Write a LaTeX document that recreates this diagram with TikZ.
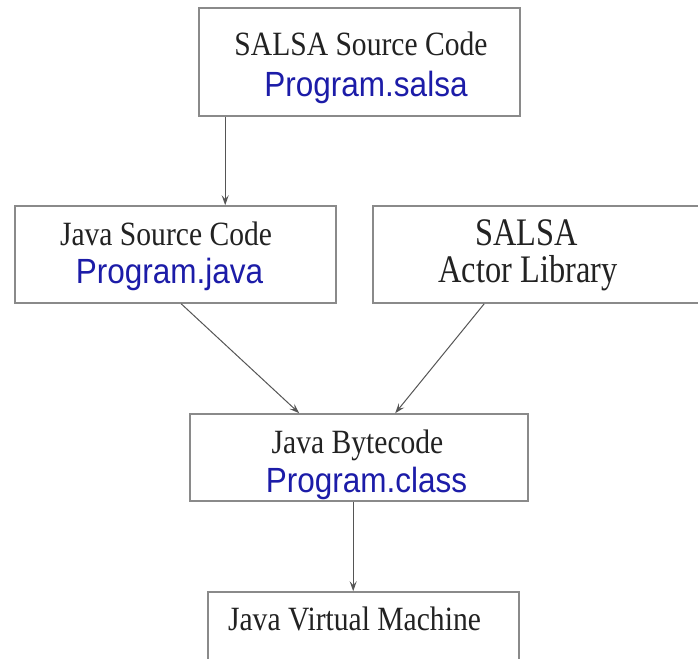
\documentclass[tikz,border=0pt]{standalone}
\usepackage{fontspec}
\setmainfont{Liberation Serif}
\newfontfamily\bluefont{Liberation Sans}
\usetikzlibrary{arrows.meta}
\definecolor{boxgray}{HTML}{8A8A8A}
\definecolor{arrgray}{HTML}{555555}
\definecolor{progblue}{HTML}{1C1CA8}
\definecolor{textblack}{HTML}{222222}
\newcommand{\blk}[1]{\scalebox{0.87}[1]{\fontsize{34}{34}\selectfont #1}}
\newcommand{\blkbig}[1]{\scalebox{0.83}[1]{\fontsize{39}{39}\selectfont #1}}
\newcommand{\blu}[1]{\scalebox{0.9}[1]{\fontsize{35}{35}\bluefont #1}}
\tikzset{
  box/.style={draw=boxgray, line width=1.6pt, rectangle, inner sep=0pt, fill=none},
  lbl/.style={anchor=base, inner sep=0pt, text=textblack},
  blbl/.style={anchor=base, inner sep=0pt, text=progblue},
  conn/.style={draw=arrgray, line width=1pt, -{Stealth[length=10pt,width=7pt,inset=4pt]}}
}
\begin{document}
\begin{tikzpicture}[x=1pt,y=-1pt]
\fill[white] (0,0) rectangle (698,658);
\useasboundingbox (0,0) rectangle (698,658);
\begin{scope}
\clip (0,0) rectangle (698,658);
% boxes
\node[box, minimum width=321pt, minimum height=108pt] (salsa) at (359.5,62) {};
\node[box, minimum width=321pt, minimum height=97pt] (java) at (175.5,254.5) {};
\node[box, minimum width=380pt, minimum height=97pt] (actor) at (563,254.5) {};
\node[box, minimum width=338pt, minimum height=87pt] (byte) at (359,457.5) {};
\node[box, minimum width=311pt, minimum height=92pt] (jvm) at (363.5,638) {};
\end{scope}
% texts
\node[lbl] (t1) at (361,56) {\blk{SALSA Source Code}};
\node[blbl] (t2) at (366,97) {\blu{Program.salsa}};
\node[lbl] (t3) at (166,245) {\blk{Java Source Code}};
\node[blbl] (t4) at (169.5,283) {\blu{Program.java}};
\node[lbl] (t5) at (526.5,245) {\blkbig{SALSA}};
\node[lbl] (t6) at (528,282) {\blkbig{Actor Library}};
\node[lbl] (t7) at (357.5,453) {\blk{Java Bytecode}};
\node[blbl] (t8) at (366.5,492) {\blu{Program.class}};
\node[lbl] (t9) at (354.5,630) {\blk{Java Virtual Machine}};
% connectors
\draw[conn] ([xshift=27pt]salsa.south west) -- ([xshift=27pt]salsa.south west |- java.north);
\draw[conn] ([xshift=167pt]java.south west) -- ([xshift=110pt]byte.north west);
\draw[conn] ([xshift=112pt]actor.south west) -- ([xshift=206pt]byte.north west);
\draw[conn] ([xshift=164pt]byte.south west) -- ([xshift=164pt]byte.south west |- jvm.north);
\end{tikzpicture}
\end{document}
